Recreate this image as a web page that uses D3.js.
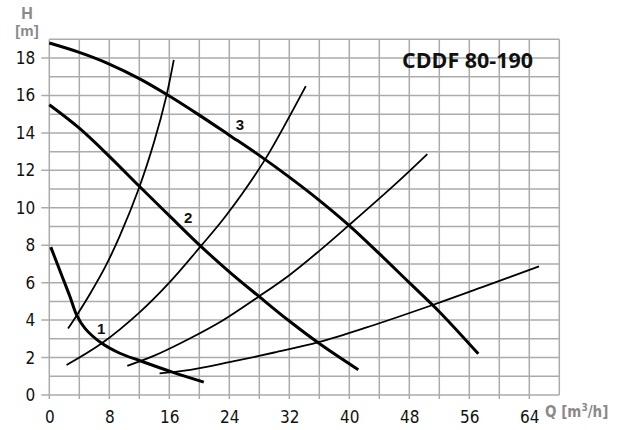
<!DOCTYPE html>
<html><head><meta charset="utf-8">
<script src="https://cdn.jsdelivr.net/npm/d3@7"></script>
<style>
html,body{margin:0;padding:0;background:#fff;}
svg{display:block;}
</style></head>
<body>
<svg id="chart" width="623" height="430"></svg>
<script>
// ---- data ----
const title = "CDDF 80-190";
const xTicks = [0, 8, 16, 24, 32, 40, 48, 56, 64];
const yTicks = [0, 2, 4, 6, 8, 10, 12, 14, 16, 18];
// pump curves (Q m3/h, H m)
const pump1 = [[0.2,7.9],[1.65,6.4],[2.76,5.25],[3.65,4.27],[4.76,3.56],[7,2.76],[9.4,2.23],[12.1,1.83],[16.5,1.21],[20.6,0.69]];
const pump2 = [[0,15.5],[4,14.25],[8,12.75],[12,11.15],[16,9.58],[20,8.02],[24,6.58],[28,5.25],[32,3.95],[36,2.75],[41.2,1.35]];
const pump3 = [[0,18.8],[4,18.3],[8,17.68],[12,16.9],[16,15.97],[20,14.95],[24,13.88],[28,12.8],[32,11.64],[36,10.4],[40,9.05],[44,7.55],[48,6.0],[52,4.45],[57.2,2.2]];
// system curves
const sys1 = [[2.5,3.55],[3.65,4.25],[5.5,5.45],[7.4,6.8],[9.4,8.5],[12,11.1],[14,13.55],[15.6,15.95],[16.6,17.9]];
const sys2 = [[2.3,1.6],[7,2.76],[12,4.4],[16,6.0],[20.2,7.95],[23.6,9.6],[28.8,12.6],[34.2,16.5]];
const sys3 = [[10.4,1.56],[14,2.1],[18.8,3.03],[23,3.95],[27.9,5.25],[32,6.4],[36,7.7],[39.9,9.05],[46.1,11.25],[50.4,12.87]];
const sys4 = [[14.7,1.16],[18.8,1.34],[24,1.75],[30,2.27],[35.9,2.82],[42.1,3.58],[51.2,4.82],[58,5.8],[65.3,6.87]];
const curveLabels = [["1",6.9,3.26],["2",18.5,9.19],["3",25.4,14.18]];

// ---- layout ----
const svg = d3.select("#chart");
const L = 49.3, R = 559.3, T = 39.3, B = 395;
const x = d3.scaleLinear().domain([0, 68]).range([L, R]);
const y = d3.scaleLinear().domain([0, 19]).range([B, T]);
const grid = "#ababab";
const narrow = "'Liberation Sans Narrow','DejaVu Sans Condensed','Open Sans',sans-serif";

// grid
const g = svg.append("g");
g.selectAll("line.v").data(d3.range(0, 69, 4)).join("line")
  .attr("x1", d => x(d)).attr("x2", d => x(d))
  .attr("y1", T).attr("y2", d => (d === 68 ? B : B + 4))
  .attr("stroke", grid).attr("stroke-width", 1.5);
g.selectAll("line.h").data(d3.range(0, 20, 1)).join("line")
  .attr("x1", d => (d % 2 === 0 && d <= 18 ? L - 8 : L)).attr("x2", R)
  .attr("y1", d => y(d)).attr("y2", d => y(d))
  .attr("stroke", grid).attr("stroke-width", 1.5);

// tick labels via d3 axes
const xAxis = svg.append("g").attr("transform", `translate(0,${B})`)
  .call(d3.axisBottom(x).tickValues(xTicks).tickSize(0).tickPadding(16));
xAxis.select(".domain").remove();
xAxis.selectAll("text").attr("font-family", narrow).attr("font-size", 17).attr("fill", "#111");

const yAxis = svg.append("g").attr("transform", `translate(${L - 12},0)`)
  .call(d3.axisLeft(y).tickValues(yTicks).tickSize(0).tickPadding(2));
yAxis.select(".domain").remove();
yAxis.selectAll("text").attr("font-family", narrow).attr("font-size", 17).attr("fill", "#111");

// axis titles
svg.append("text").attr("x", 27).attr("y", 19).attr("text-anchor", "middle")
  .attr("font-family", "Liberation Sans, Arial, sans-serif").attr("font-weight", "bold")
  .attr("font-size", 16).attr("fill", "#8a8a8a").text("H");
svg.append("text").attr("x", 27).attr("y", 36).attr("text-anchor", "middle")
  .attr("font-family", "Liberation Sans, Arial, sans-serif").attr("font-weight", "bold")
  .attr("font-size", 15).attr("fill", "#8a8a8a").text("[m]");
const qt = svg.append("text").attr("x", 545).attr("y", 417)
  .attr("font-family", "'Liberation Sans Narrow','DejaVu Sans Condensed',sans-serif").attr("font-weight", "bold")
  .attr("font-size", 15).attr("fill", "#8a8a8a");
qt.append("tspan").text("Q [m");
qt.append("tspan").attr("dy", -6).attr("font-size", 10).text("3");
qt.append("tspan").attr("dy", 6).text("/h]");

// title
svg.append("text").attr("x", 402).attr("y", 68)
  .attr("font-family", "'Open Sans','Liberation Sans',sans-serif").attr("font-weight", "bold")
  .attr("font-size", 22).attr("fill", "#111")
  .attr("textLength", 131).attr("lengthAdjust", "spacingAndGlyphs").text(title);

// curves
const line = d3.line().x(d => x(d[0])).y(d => y(d[1])).curve(d3.curveCatmullRom.alpha(0.5));
const sysCurves = [sys1, sys2, sys3, sys4];
svg.append("g").selectAll("path").data(sysCurves).join("path")
  .attr("d", line).attr("fill", "none").attr("stroke", "#000").attr("stroke-width", 1.8);
const pumpCurves = [pump1, pump2, pump3];
svg.append("g").selectAll("path").data(pumpCurves).join("path")
  .attr("d", line).attr("fill", "none").attr("stroke", "#000").attr("stroke-width", 3);

// curve labels
svg.append("g").selectAll("text").data(curveLabels).join("text")
  .attr("x", d => x(d[1])).attr("y", d => y(d[2])).attr("text-anchor", "middle")
  .attr("font-family", "'Liberation Sans',Arial,sans-serif").attr("font-weight", "bold")
  .attr("font-size", 15).attr("fill", "#111").text(d => d[0]);
</script>
</body></html>
